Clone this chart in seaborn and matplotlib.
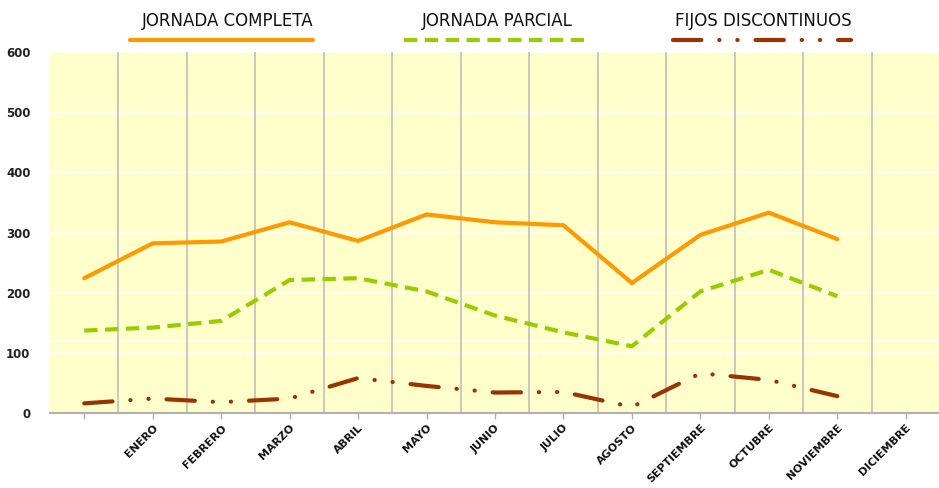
import numpy as np
import pandas as pd
import seaborn as sns
import matplotlib
matplotlib.use("Agg")
import matplotlib.pyplot as plt
from matplotlib.lines import Line2D

months = ["", "ENERO", "FEBRERO", "MARZO", "ABRIL", "MAYO", "JUNIO", "JULIO",
          "AGOSTO", "SEPTIEMBRE", "OCTUBRE", "NOVIEMBRE", "DICIEMBRE"]
completa = [224, 282, 285, 317, 286, 330, 317, 312, 216, 296, 333, 289]
parcial = [137, 142, 153, 221, 224, 202, 162, 134, 111, 202, 238, 194]
fijos = [16, 24, 18, 24, 58, 45, 34, 35, 10, 66, 55, 28]
series_names = ["JORNADA COMPLETA", "JORNADA PARCIAL", "FIJOS DISCONTINUOS"]
y_ticks = [0, 100, 200, 300, 400, 500, 600]

colors = {"JORNADA COMPLETA": "#FF9900", "JORNADA PARCIAL": "#99CC00",
          "FIJOS DISCONTINUOS": "#993300"}
dashes = {"JORNADA COMPLETA": "",
          "JORNADA PARCIAL": (3.2, 1.8),
          "FIJOS DISCONTINUOS": (6.8, 4.3, 0.05, 4.3, 0.05, 4.3)}

rows = []
for name, vals in zip(series_names, [completa, parcial, fijos]):
    for i, v in enumerate(vals):
        rows.append({"mes": i, "valor": v, "serie": name})
df = pd.DataFrame(rows)

sns.set_theme(style="white")
plt.rcParams['font.family'] = ['DejaVu Sans']

fig = plt.figure(figsize=(9.39, 4.88), dpi=100)
ax = fig.add_axes([50/939, 1-413/488, 890/939, (413-52)/488])
ax.set_facecolor("#FFFFCC")

sns.lineplot(data=df, x="mes", y="valor", hue="serie", style="serie",
             palette=colors, dashes=dashes, linewidth=3.0, ax=ax,
             legend=False, sort=False)
for ln in ax.lines:
    if ln.get_color() in ("#993300",):
        ln.set_dash_capstyle("round")
    else:
        ln.set_dash_capstyle("butt")
    ln.set_solid_capstyle("round")
    ln.set_solid_joinstyle("miter")

ax.set_xlim(-0.5, len(months) - 0.5)
ax.set_ylim(0, 600)
ax.set_yticks(y_ticks)
ax.set_yticklabels([str(t) for t in y_ticks], fontsize=8.5, fontweight="bold", color="#222222")
ax.set_xticks(range(len(months)))
ax.set_xticklabels(months, rotation=45, ha="right", va="top", rotation_mode="anchor",
                   fontsize=7.9, fontweight="bold", color="#111111")
ax.set_xlabel("")
ax.set_ylabel("")

for t in y_ticks[1:]:
    ax.axhline(t, color="white", lw=1.2, zorder=0.5)
ax.axhline(119, color="white", lw=1.2, zorder=0.5)
for k in range(len(months) - 1):
    ax.axvline(k + 0.5, color="#BFBFBF", lw=1.2, zorder=0.6)

for s in ["top", "right", "left"]:
    ax.spines[s].set_visible(False)
ax.spines["bottom"].set_color("#B0B0B0")
ax.spines["bottom"].set_linewidth(1.5)
ax.tick_params(axis="x", which="both", bottom=True, length=4, color="#B0B0B0",
               width=1, pad=3)
ax.tick_params(axis="y", length=0, pad=14)

# legend at the top
leg_centers = [228, 497, 763]
leg_spans = [(130, 313), (404, 585), (673, 851)]
for name, cx, (x0, x1) in zip(series_names, leg_centers, leg_spans):
    fig.text(cx/939, 1-21/488, name, ha="center", va="center",
             fontsize=12, family=["Liberation Sans Narrow", "DejaVu Sans"], color="#111111")
    d = dashes[name]
    ln = Line2D([x0/939, x1/939], [1-40/488, 1-40/488], transform=fig.transFigure,
                color=colors[name], lw=3.0)
    if d:
        ln.set_dashes(d)
    ln.set_dash_capstyle("round" if name == "FIJOS DISCONTINUOS" else "butt")
    fig.add_artist(ln)

fig.savefig("out.png", dpi=100)
